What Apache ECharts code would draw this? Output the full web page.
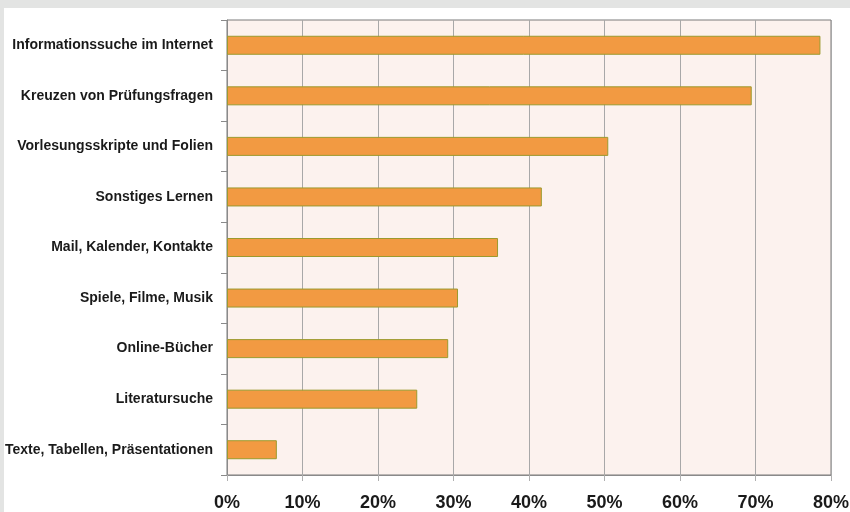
<!DOCTYPE html>
<html>
<head>
<meta charset="utf-8">
<script src="https://cdn.jsdelivr.net/npm/echarts@6/dist/echarts.min.js"></script>
<style>
  html, body { margin: 0; padding: 0; background: #e3e4e3; }
  #frame { position: absolute; left: 4px; top: 8px; width: 846px; height: 504px; background: #ffffff; }
  #chart { position: absolute; left: -4px; top: -8px; width: 850px; height: 512px; }
</style>
</head>
<body>
<div id="frame"><div id="chart"></div></div>
<script>
    // Kategorien von oben nach unten
    var categories = [
        'Informationssuche im Internet',
        'Kreuzen von Prüfungsfragen',
        'Vorlesungsskripte und Folien',
        'Sonstiges Lernen',
        'Mail, Kalender, Kontakte',
        'Spiele, Filme, Musik',
        'Online-Bücher',
        'Literatursuche',
        'Texte, Tabellen, Präsentationen'
    ];
    // Anteil in Prozent
    var values = [78.6, 69.5, 50.5, 41.7, 35.9, 30.6, 29.3, 25.2, 6.6];
    var xTicks = [0, 10, 20, 30, 40, 50, 60, 70, 80];

    var chart = echarts.init(document.getElementById('chart'));
    var option = {
        animation: false,
        grid: {
            left: 227,
            right: 19,
            top: 20,
            bottom: 37,
            outerBoundsMode: 'none',
            show: true,
            backgroundColor: '#fcf2ee',
            borderColor: '#7a7a7a',
            borderWidth: 1
        },
        xAxis: {
            type: 'value',
            min: xTicks[0],
            max: xTicks[xTicks.length - 1],
            interval: 10,
            axisLine: { show: true, lineStyle: { color: '#8a8a8a' } },
            axisTick: { show: true, length: 6, lineStyle: { color: '#b0b0b0' } },
            splitLine: { show: true, lineStyle: { color: '#a8a8a8' } },
            axisLabel: {
                margin: 19,
                color: '#1a1a1a',
                fontFamily: 'Liberation Sans, Arial, sans-serif',
                fontWeight: 'bold',
                fontSize: 18,
                formatter: '{value}%'
            }
        },
        yAxis: {
            type: 'category',
            inverse: true,
            data: categories,
            axisLine: { show: true, lineStyle: { color: '#8a8a8a' } },
            axisTick: { show: true, length: 6, lineStyle: { color: '#8a8a8a' } },
            axisLabel: {
                margin: 14,
                color: '#1a1a1a',
                fontFamily: 'Liberation Sans, Arial, sans-serif',
                fontWeight: 'bold',
                fontSize: 14
            }
        },
        series: [{
            type: 'bar',
            data: values,
            barWidth: 19,
            itemStyle: {
                color: '#f29a42',
                borderColor: '#9c9a2e',
                borderWidth: 1
            }
        }]
    };
    chart.setOption(option);
    window.addEventListener('resize', chart.resize);
</script>
</body>
</html>
